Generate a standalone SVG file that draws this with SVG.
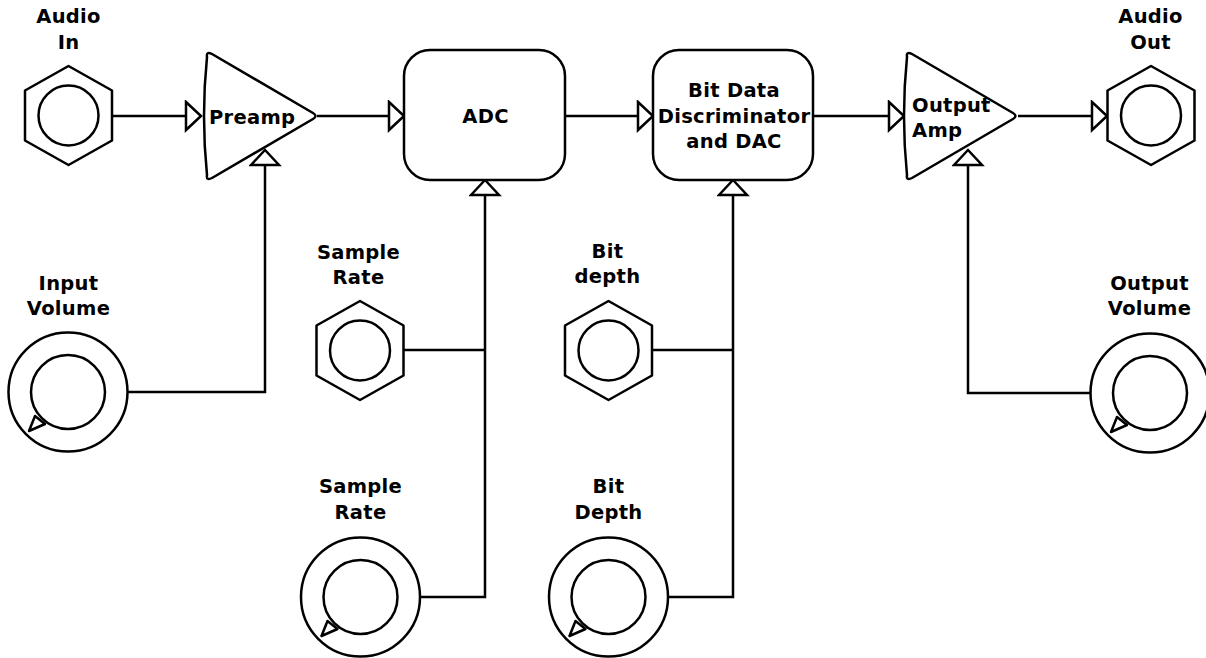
<svg xmlns="http://www.w3.org/2000/svg" width="1206" height="658" viewBox="0 0 1206 658">
  <style>
    .shape { fill: #ffffff; stroke: #000000; stroke-width: 2.5; stroke-linejoin: round; }
    .wire { fill: none; stroke: #000000; stroke-width: 2.5; }
    .lbl { font-family: "DejaVu Sans", "Liberation Sans", sans-serif; font-weight: bold; font-size: 19.5px; fill: #000000; letter-spacing: 0.3px; }
    .mid { text-anchor: middle; }
  </style>
  <defs>
    <marker id="inlet" markerUnits="userSpaceOnUse" markerWidth="22" markerHeight="34" refX="17" refY="16" orient="auto">
      <path d="M2,2 L17,16 L2,30 Z" fill="#ffffff" stroke="#000000" stroke-width="2.5" stroke-linejoin="miter"/>
    </marker>
    <!-- jack socket: hexagon nut with a round hole -->
    <g id="jack">
      <polygon class="shape" points="0,-49.5 43.5,-25 43.5,25 0,49.5 -43.5,25 -43.5,-25"/>
      <circle class="shape" r="30"/>
    </g>
    <!-- rotary knob with pointer -->
    <g id="knob">
      <circle class="shape" r="59.5"/>
      <circle class="shape" r="37"/>
      <polygon class="shape" points="-39,39 -33,24 -23,32"/>
    </g>
    <!-- amplifier triangle -->
    <path id="amp" class="shape" d="M207,57 Q206,51 212,54 L313,113 Q318,116 313,119 L212,178 Q206,181 207,175 Q201,116 207,57 Z"/>
  </defs>

  <g id="connectors">
    <path class="wire" d="M112,116 H201" marker-end="url(#inlet)"/>
    <path class="wire" d="M317,116 H404" marker-end="url(#inlet)"/>
    <path class="wire" d="M565,116 H653" marker-end="url(#inlet)"/>
    <path class="wire" d="M813,116 H904" marker-end="url(#inlet)"/>
    <path class="wire" d="M1018,116 H1107" marker-end="url(#inlet)"/>
    <path class="wire" d="M127.5,392 H265 V150" marker-end="url(#inlet)"/>
    <path class="wire" d="M403.5,350 H485"/>
    <path class="wire" d="M420,597 H485 V180" marker-end="url(#inlet)"/>
    <path class="wire" d="M652,350 H733"/>
    <path class="wire" d="M668,597 H733 V180" marker-end="url(#inlet)"/>
    <path class="wire" d="M1090.5,393 H968 V150" marker-end="url(#inlet)"/>
  </g>

  <g id="audio-in">
    <use href="#jack" x="68.5" y="115.5"/>
    <text class="lbl mid" x="68.5" y="23">Audio</text>
    <text class="lbl mid" x="68.5" y="49">In</text>
  </g>

  <g id="preamp">
    <use href="#amp"/>
    <text class="lbl" x="209" y="124">Preamp</text>
  </g>

  <g id="adc">
    <rect class="shape" x="404" y="50" width="161" height="130" rx="26" ry="26"/>
    <text class="lbl mid" x="485.5" y="123">ADC</text>
  </g>

  <g id="discriminator-dac">
    <rect class="shape" x="653" y="50" width="160" height="130" rx="26" ry="26"/>
    <text class="lbl mid" x="734" y="97">Bit Data</text>
    <text class="lbl mid" x="734" y="122.5">Discriminator</text>
    <text class="lbl mid" x="734" y="148">and DAC</text>
  </g>

  <g id="output-amp">
    <use href="#amp" x="700"/>
    <text class="lbl" x="912" y="112">Output</text>
    <text class="lbl" x="912" y="137">Amp</text>
  </g>

  <g id="audio-out">
    <use href="#jack" x="1151" y="115.5"/>
    <text class="lbl mid" x="1150.5" y="23">Audio</text>
    <text class="lbl mid" x="1150.5" y="49">Out</text>
  </g>

  <g id="input-volume">
    <use href="#knob" x="68" y="392"/>
    <text class="lbl mid" x="68.5" y="290">Input</text>
    <text class="lbl mid" x="68.5" y="315">Volume</text>
  </g>

  <g id="sample-rate-jack">
    <use href="#jack" x="360" y="350.5"/>
    <text class="lbl mid" x="358.5" y="259">Sample</text>
    <text class="lbl mid" x="358.5" y="284">Rate</text>
  </g>

  <g id="sample-rate-knob">
    <use href="#knob" x="360.5" y="597"/>
    <text class="lbl mid" x="360.5" y="493">Sample</text>
    <text class="lbl mid" x="360.5" y="519">Rate</text>
  </g>

  <g id="bit-depth-jack">
    <use href="#jack" x="608.5" y="350.5"/>
    <text class="lbl mid" x="607.5" y="258">Bit</text>
    <text class="lbl mid" x="607.5" y="283">depth</text>
  </g>

  <g id="bit-depth-knob">
    <use href="#knob" x="608.5" y="597"/>
    <text class="lbl mid" x="608.5" y="493">Bit</text>
    <text class="lbl mid" x="608.5" y="519">Depth</text>
  </g>

  <g id="output-volume">
    <use href="#knob" x="1150" y="393"/>
    <text class="lbl mid" x="1149.5" y="290">Output</text>
    <text class="lbl mid" x="1149.5" y="315">Volume</text>
  </g>
</svg>
